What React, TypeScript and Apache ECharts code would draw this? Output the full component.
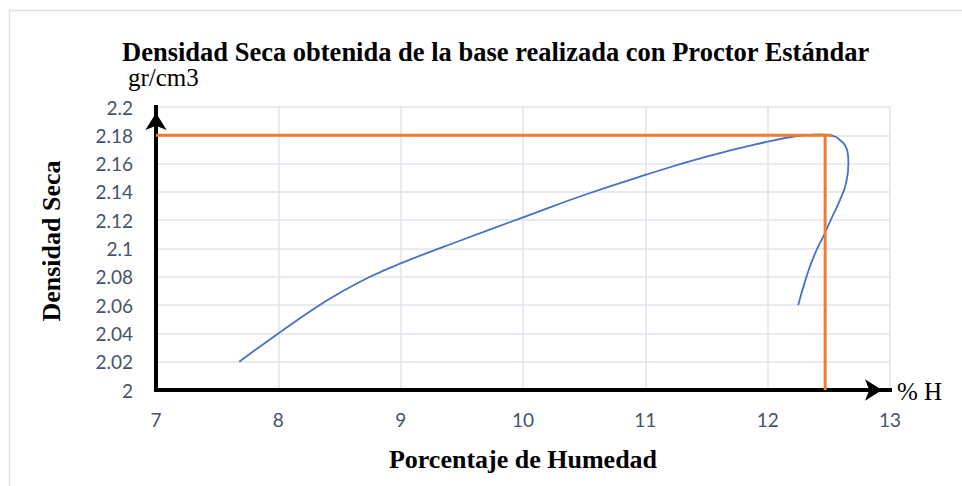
import React, { useEffect, useRef } from "react";
import * as echarts from "echarts";

// Curva de compactación
const humedad = [7.68, 8.0, 8.31, 8.5, 8.75, 9.0, 9.5, 10.0, 10.5, 11.0, 11.5, 12.0, 12.24, 12.43, 12.54, 12.59, 12.63, 12.655, 12.66, 12.64, 12.59, 12.52, 12.46, 12.38, 12.31, 12.25];
const densidad = [2.02, 2.04, 2.0585, 2.0685, 2.08, 2.0895, 2.106, 2.122, 2.1378, 2.152, 2.1649, 2.1755, 2.1795, 2.1807, 2.1795, 2.1767, 2.1732, 2.1673, 2.16, 2.146, 2.134, 2.121, 2.1095, 2.095, 2.078, 2.06];

// Líneas de lectura (densidad seca máxima y humedad óptima)
const lineaHorizontalX = [7, 12.53];
const lineaHorizontalY = [2.18, 2.18];
const lineaVerticalX = [12.47, 12.47];
const lineaVerticalY = [2.181, 2.0];

const xMin = 7, xMax = 13, xInterval = 1;
const yMin = 2, yMax = 2.2, yInterval = 0.02;

const titulo = "Densidad Seca obtenida de la base realizada con Proctor Estándar";
const unidadY = "gr/cm3";
const unidadX = "% H";
const nombreY = "Densidad Seca";
const nombreX = "Porcentaje de Humedad";

const serif = "'Liberation Serif', 'Times New Roman', serif";
const sans = "Lato, 'Open Sans', sans-serif";
const tickColor = "#44546a";
const gridColor = "#dfe3ea";

export default function App() {
  const ref = useRef<HTMLDivElement>(null);
  useEffect(() => {
    if (!ref.current) return;
    const chart = echarts.init(ref.current, null, { renderer: "svg" });
    const zip = (xs: number[], ys: number[]) => xs.map((x, i) => [x, ys[i]]);
    chart.setOption({
      animation: false,
      backgroundColor: "#ffffff",
      title: {
        text: titulo,
        left: 117,
        top: 33,
        textStyle: { fontFamily: serif, fontWeight: "bold", fontSize: 26.5, color: "#000" },
      },
      grid: { left: 156, right: 72, top: 107, bottom: 96 },
      xAxis: {
        type: "value",
        min: xMin,
        max: xMax,
        interval: xInterval,
        name: nombreX,
        nameLocation: "middle",
        nameGap: 56,
        nameTextStyle: { fontFamily: serif, fontWeight: "bold", fontSize: 26, color: "#000" },
        axisLine: {
          show: true,
          symbol: ["none", "arrow"],
          symbolSize: [16, 17],
          symbolOffset: [0, -8],
          lineStyle: { color: "#000", width: 4, cap: "square" },
        },
        axisTick: { show: false },
        axisLabel: { color: tickColor, fontFamily: sans, fontSize: 19, margin: 20 },
        splitLine: { show: true, lineStyle: { color: gridColor, width: 1.5 } },
      },
      yAxis: {
        type: "value",
        min: yMin,
        max: yMax,
        interval: yInterval,
        axisLine: {
          show: true,
          symbol: ["none", "arrow"],
          symbolSize: [16, 17],
          symbolOffset: [0, -6],
          lineStyle: { color: "#000", width: 4, cap: "square" },
        },
        axisTick: { show: false },
        axisLabel: { color: tickColor, fontFamily: sans, fontSize: 19, margin: 23 },
        splitLine: { show: true, lineStyle: { color: gridColor, width: 1.5 } },
      },
      graphic: [
        {
          type: "rect",
          shape: { x: 9.5, y: 10.5, width: 1000, height: 600 },
          style: { fill: "none", stroke: "#dfe2e7", lineWidth: 1.5 },
          silent: true,
        },
        {
          type: "text",
          x: 51,
          y: 241,
          rotation: Math.PI / 2,
          style: {
            text: nombreY,
            font: `bold 26px ${serif}`,
            fill: "#000",
            align: "center",
            verticalAlign: "middle",
          },
        },
        {
          type: "text",
          left: 128,
          top: 65,
          style: { text: unidadY, font: `25px ${serif}`, fill: "#000" },
        },
        {
          type: "text",
          left: 897,
          top: 379,
          style: { text: unidadX, font: `25px ${serif}`, fill: "#000" },
        },
      ],
      series: [
        {
          type: "line",
          data: zip(humedad, densidad),
          smooth: 0.5,
          showSymbol: false,
          lineStyle: { color: "#4472c4", width: 1.8 },
          z: 3,
        },
        {
          type: "line",
          data: zip(lineaHorizontalX, lineaHorizontalY),
          showSymbol: false,
          lineStyle: { color: "#ed7d31", width: 3 },
          z: 4,
        },
        {
          type: "line",
          data: zip(lineaVerticalX, lineaVerticalY),
          showSymbol: false,
          lineStyle: { color: "#ed7d31", width: 3 },
          z: 4,
        },
      ],
    });
    return () => chart.dispose();
  }, []);
  return (
    <div
      ref={ref}
      style={{ position: "absolute", left: 0, top: 0, width: 962, height: 486 }}
    />
  );
}
